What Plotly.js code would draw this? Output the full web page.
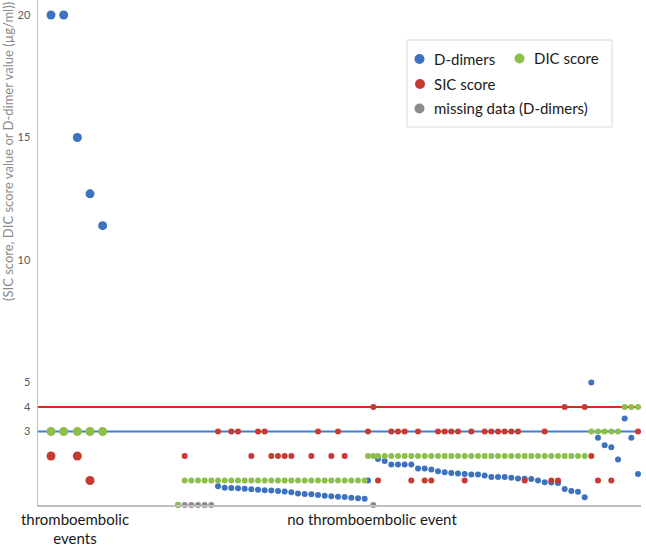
<!DOCTYPE html>
<html>
<head>
<meta charset="utf-8">
<script src="https://cdn.plot.ly/plotly-3.0.1.min.js"></script>
<style>html,body{margin:0;padding:0;background:#fff;}#chart{width:646px;height:549px;}</style>
</head>
<body>
<div id="chart"></div>
<script>
// Category labels on the x axis and where they are centred (patient slot units)
const categoryLabels = ['thromboembolic<br>events', 'no thromboembolic event'];
const categoryPos = [5.55, 50.1];

// Y axis tick values
const yTicks = [3, 4, 5, 10, 15, 20];

// Reference thresholds
const sicThreshold = 4;
const dicThreshold = 3;

// D-dimers (µg/ml)
const dDimerX = [1.95, 3.85, 5.9, 7.8, 9.7,
  27, 28, 29, 30, 31, 32, 33, 34, 35, 36, 37, 38, 39, 40, 41, 42, 43, 44, 45, 46, 47, 48, 49,
  49.5,
  51, 52, 53, 54, 55, 56, 57, 58, 59, 60, 61, 62, 63, 64, 65, 66, 67, 68, 69, 70, 71, 72, 73, 74, 75, 76, 77, 78, 79, 80, 81, 82,
  83, 84, 85, 86, 87, 88, 89, 90];
const dDimerY = [20, 20, 15, 12.7, 11.4,
  0.77, 0.70, 0.69, 0.68, 0.66, 0.64, 0.62, 0.60, 0.59, 0.57, 0.55, 0.52, 0.47, 0.45, 0.44, 0.41, 0.38, 0.36, 0.34, 0.33, 0.30, 0.28, 0.25,
  1.0,
  1.88, 1.80, 1.65, 1.65, 1.65, 1.65, 1.49, 1.49, 1.45, 1.38, 1.34, 1.31, 1.29, 1.27, 1.24, 1.24, 1.20, 1.14, 1.14, 1.14, 1.11, 1.08, 1.07, 1.06, 1.00, 0.93, 0.92, 0.90, 0.65, 0.57, 0.54, 0.32,
  5.0, 2.74, 2.44, 2.36, 1.86, 3.53, 2.74, 1.27];

// SIC score
const sicX = [1.95, 5.9, 7.8,
  22, 27, 29, 30, 32, 33, 34, 35, 36, 37, 38, 41, 42, 44, 45, 46,
  49.5, 50.3, 51, 53, 54, 55, 56, 57, 58, 59, 60, 61, 62, 63, 64, 65, 67, 68, 69, 70, 71, 72, 73, 76, 77, 78, 79, 82,
  83, 84, 86, 90];
const sicY = [2, 2, 1,
  2, 3, 3, 3, 2, 3, 3, 2, 2, 2, 2, 2, 3, 2, 3, 2,
  3, 4, 1, 3, 3, 3, 1, 3, 1, 1, 3, 3, 3, 3, 1, 3, 3, 3, 3, 3, 3, 3, 1, 3, 1, 1, 4, 4,
  2, 1, 1, 3];

// Missing D-dimer data (drawn at 0)
const missingX = [21, 22, 23, 24, 25, 26, 50.3];
const missingY = [0, 0, 0, 0, 0, 0, 0];

// DIC score
const dicX = [1.95, 3.85, 5.9, 7.8, 9.7,
  21,
  22, 23, 24, 25, 26, 27, 28, 29, 30, 31, 32, 33, 34, 35, 36, 37, 38, 39, 40, 41, 42, 43, 44, 45, 46, 47, 48, 49,
  49.5, 50.3,
  51, 52, 53, 54, 55, 56, 57, 58, 59, 60, 61, 62, 63, 64, 65, 66, 67, 68, 69, 70, 71, 72, 73, 74, 75, 76, 77, 78, 79, 80, 81, 82,
  83, 84, 85, 86, 87,
  88, 89, 90];
const dicY = [3, 3, 3, 3, 3,
  0,
  1, 1, 1, 1, 1, 1, 1, 1, 1, 1, 1, 1, 1, 1, 1, 1, 1, 1, 1, 1, 1, 1, 1, 1, 1, 1, 1, 1,
  2, 2,
  2, 2, 2, 2, 2, 2, 2, 2, 2, 2, 2, 2, 2, 2, 2, 2, 2, 2, 2, 2, 2, 2, 2, 2, 2, 2, 2, 2, 2, 2, 2, 2,
  3, 3, 3, 3, 3,
  4, 4, 4];

const seriesNames = ['D-dimers', 'DIC score', 'SIC score', 'missing data (D-dimers)'];

const C = {blue: '#3D72C0', green: '#8DBF4C', red: '#C73A32', gray: '#8C8C8C',
           lineRed: '#E3261F', lineBlue: '#3F7FD6', axis: '#BFBFBF'};

function sizes(xs) { return xs.map(x => x < 15 ? 9 : 6); }

function trace(xs, ys, color, name) {
  return {type: 'scatter', mode: 'markers', x: xs, y: ys, name: name,
    cliponaxis: false, showlegend: false, hoverinfo: 'x+y',
    marker: {color: color, size: sizes(xs), opacity: 1, line: {width: 0}}};
}

const data = [
  trace(dDimerX, dDimerY, C.blue, seriesNames[0]),
  trace(sicX, sicY, C.red, seriesNames[2]),
  trace(missingX, missingY, C.gray, seriesNames[3]),
  trace(dicX, dicY, C.green, seriesNames[1])
];

const FONT = 'Lato, "Open Sans", sans-serif';

// Manual legend (paper coords built from pixel layout)
const W = 646, H = 549, mL = 38, mR = 5, mT = 0, mB = 44;
const pw = W - mL - mR, ph = H - mT - mB;
const px = v => (v - mL) / pw;
const py = v => 1 - (v - mT) / ph;

const legendItems = [
  {name: seriesNames[0], color: C.blue, x: 419.5, y: 59},
  {name: seriesNames[1], color: C.green, x: 519.5, y: 58.5},
  {name: seriesNames[2], color: C.red, x: 420, y: 84},
  {name: seriesNames[3], color: C.gray, x: 419.5, y: 108.5}
];

const shapes = [
  {type: 'line', xref: 'paper', yref: 'y', x0: 0, x1: 1, y0: sicThreshold, y1: sicThreshold,
   line: {color: C.lineRed, width: 2}, layer: 'below'},
  {type: 'line', xref: 'paper', yref: 'y', x0: 0, x1: 1, y0: dicThreshold, y1: dicThreshold,
   line: {color: C.lineBlue, width: 2}, layer: 'below'},
  {type: 'rect', xref: 'paper', yref: 'paper', x0: px(407), x1: px(612), y0: py(40), y1: py(127),
   line: {color: '#D9D9D9', width: 1}, fillcolor: 'rgba(255,255,255,1)', layer: 'above'}
];
const annotations = [];
legendItems.forEach(it => {
  shapes.push({type: 'circle', xref: 'paper', yref: 'paper',
    x0: px(it.x - 5), x1: px(it.x + 5), y0: py(it.y + 5), y1: py(it.y - 5),
    fillcolor: it.color, line: {width: 0}, layer: 'above'});
  annotations.push({xref: 'paper', yref: 'paper', x: px(it.x + 12), y: py(it.y),
    xanchor: 'left', yanchor: 'middle', showarrow: false, text: it.name,
    font: {family: FONT, size: 15, color: '#1a1a1a'}});
});
annotations.push({xref: 'paper', yref: 'paper', x: px(8), y: py(152), textangle: -90,
  xanchor: 'center', yanchor: 'middle', showarrow: false,
  text: '(SIC score, DIC score value or D-dimer value (µg/ml))',
  font: {family: FONT, size: 13, color: '#8A8A8A'}});

const layout = {
  width: W, height: H,
  margin: {l: mL, r: mR, t: mT, b: mB},
  paper_bgcolor: '#fff', plot_bgcolor: '#fff',
  showlegend: false,
  font: {family: FONT},
  xaxis: {range: [0, 90.45], showgrid: false, zeroline: false, showline: true,
    linecolor: C.axis, linewidth: 1.5, tickmode: 'array', tickvals: categoryPos,
    ticktext: categoryLabels, ticks: '', tickfont: {family: FONT, size: 15, color: '#1a1a1a'}},
  yaxis: {range: [0, 20.61], showgrid: false, zeroline: false, showline: true,
    linecolor: C.axis, linewidth: 1.5, tickmode: 'array', tickvals: yTicks, ticks: '',
    ticklabelstandoff: 4, tickfont: {family: FONT, size: 11, color: '#595959'}},
  shapes: shapes,
  annotations: annotations
};

Plotly.newPlot('chart', data, layout, {displayModeBar: false, staticPlot: true});
</script>
</body>
</html>
